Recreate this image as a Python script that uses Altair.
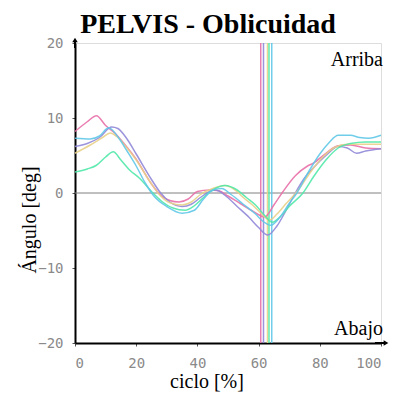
import altair as alt
import pandas as pd

# ---- data ----
series_names = ["A", "B", "C", "D", "E"]
series_colors = ["#e870a8", "#9088d8", "#e8d088", "#50e8a8", "#60c8e8"]

pink_x = [0, 4, 7, 10, 13, 16, 20, 25, 28, 31, 34, 37, 40, 44, 47, 50, 54, 58, 62, 65, 68, 72, 76, 78, 82, 86, 90, 95, 100]
pink_y = [8.2, 9.5, 10.3, 9.0, 8.0, 6.6, 4.5, 1.2, -0.3, -1.0, -1.2, -0.8, 0.2, 0.4, 0.3, -0.4, -1.4, -2.4, -3.2, -1.6, 0.2, 2.3, 3.6, 4.0, 5.3, 6.3, 6.4, 6.0, 5.9]

purple_x = [0, 4, 8, 12, 14, 17, 20, 25, 28, 31, 35, 38, 41, 44, 46, 49, 53, 57, 60, 63, 66, 69, 72, 75, 78, 82, 86, 89, 92, 95, 100]
purple_y = [6.2, 6.6, 7.4, 8.8, 8.6, 7.2, 5.2, 1.8, 0.0, -1.2, -1.8, -1.5, -0.6, 0.2, 0.4, -0.3, -1.8, -3.3, -4.6, -5.6, -4.4, -2.3, 0.0, 2.0, 3.4, 5.0, 6.2, 6.0, 5.3, 5.6, 5.9]

yellow_x = [0, 5, 9, 11.5, 14, 17, 20, 25, 28, 31, 35, 38, 41, 45, 49, 52, 55, 58, 61, 63.5, 66, 69, 73, 77, 81, 85, 89, 94, 100]
yellow_y = [5.3, 6.4, 7.4, 8.0, 7.4, 6.0, 4.4, 1.2, -0.4, -1.3, -1.6, -1.2, -0.2, 0.6, 1.0, 0.5, -0.6, -1.6, -2.8, -3.6, -2.8, -1.4, 0.4, 2.8, 4.8, 6.1, 6.5, 6.5, 6.5]

green_x = [0, 4, 7, 10, 12.5, 15, 18, 21, 25, 28, 32, 36, 39, 42, 45, 49, 53, 56, 59, 62, 64.5, 67, 70, 74.5, 78, 82, 86, 90, 95, 100]
green_y = [2.8, 3.2, 3.7, 4.8, 5.5, 4.4, 3.0, 2.0, 0.2, -1.0, -2.0, -2.3, -1.7, -0.6, 0.4, 1.0, 0.4, -0.6, -1.6, -3.0, -3.9, -3.2, -1.8, 0.0, 2.2, 4.4, 6.0, 6.6, 6.8, 6.8]

cyan_x = [0, 5, 8, 11, 14, 17, 20, 23, 26, 30, 35, 39, 42, 45, 48, 51, 55, 59, 61.5, 64, 67, 70, 72.5, 76, 80, 83, 86, 90, 93, 96, 100]
cyan_y = [7.3, 7.2, 7.6, 8.7, 7.5, 5.6, 3.6, 1.3, -0.5, -1.8, -2.7, -2.3, -0.8, 0.4, 0.6, -0.2, -1.5, -2.8, -3.8, -4.3, -3.2, -1.4, 0.0, 2.6, 5.2, 6.7, 7.7, 7.7, 7.4, 7.3, 7.7]

event_x = [60.7, 61.6, 62.9, 63.4, 64.3]

x_ticks = [0, 20, 40, 60, 80, 100]
y_ticks = [-20, -10, 0, 10, 20]

# ---- build tables ----
rows = []
for name, xs, ys in zip(series_names,
                        [pink_x, purple_x, yellow_x, green_x, cyan_x],
                        [pink_y, purple_y, yellow_y, green_y, cyan_y]):
    for xv, yv in zip(xs, ys):
        rows.append({"s": name, "x": xv, "y": yv})
df = pd.DataFrame(rows)
ev = pd.DataFrame({"s": series_names, "x": event_x})
zero = pd.DataFrame({"y": [0]})

W, H = 306, 300

xs = alt.Scale(domain=[0, 100], nice=False, zero=False)
ys = alt.Scale(domain=[-20, 20], nice=False, zero=False)
cs = alt.Scale(domain=series_names, range=series_colors)

x_axis = alt.Axis(values=x_ticks, title=None, grid=False, domainColor="black",
                  domainWidth=2, tickColor="#555", tickSize=3, labelPadding=10,
                  labelFont="DejaVu Sans Mono", labelFontSize=14, labelColor="#8a8a8a")
y_axis = alt.Axis(values=y_ticks, title=None, grid=False, domainColor="black",
                  domainWidth=2, tickColor="#555", tickSize=3, labelPadding=9,
                  labelFont="DejaVu Sans Mono", labelFontSize=14, labelColor="#8a8a8a")

zero_rule = alt.Chart(zero).mark_rule(color="#808080", strokeWidth=1).encode(
    y=alt.Y("y:Q", scale=ys, axis=y_axis)
)

lines = alt.Chart(df).mark_line(strokeWidth=1.5, opacity=0.9, interpolate="monotone").encode(
    x=alt.X("x:Q", scale=xs, axis=x_axis),
    y=alt.Y("y:Q", scale=ys, axis=y_axis),
    color=alt.Color("s:N", scale=cs, legend=None),
    detail="s:N",
)

rules = alt.Chart(ev).mark_rule(strokeWidth=1.5, opacity=0.9).encode(
    x=alt.X("x:Q", scale=xs),
    color=alt.Color("s:N", scale=cs, legend=None),
)

def label(txt, x, y, size, align="center", weight="normal", angle=0, baseline="alphabetic"):
    return alt.Chart(pd.DataFrame({"t": [txt]})).mark_text(
        font="Liberation Serif", fontSize=size, fontWeight=weight, align=align,
        baseline=baseline, angle=angle, color="black"
    ).encode(text="t:N", x=alt.value(x), y=alt.value(y))

title = label("PELVIS - Oblicuidad", 133, -10, 28, weight="bold")
arriba = label("Arriba", 308, 23, 20, align="right")
abajo = label("Abajo", 308, 292, 20, align="right")
xtitle = label("ciclo [%]", 132, 345, 20)
ytitle = label("Ángulo [deg]", -45, 177, 20, angle=270, baseline="middle")

arrow_up = alt.Chart(pd.DataFrame({"a": [0]})).mark_point(
    shape="triangle-up", filled=True, color="black", size=30, opacity=1
).encode(x=alt.value(0), y=alt.value(-3))
arrow_right = alt.Chart(pd.DataFrame({"a": [0]})).mark_point(
    shape="triangle-right", filled=True, color="black", size=30, opacity=1
).encode(x=alt.value(311), y=alt.value(300))
ext_x = alt.Chart(pd.DataFrame({"a": [0]})).mark_rule(color="black", strokeWidth=2).encode(
    x=alt.value(300), x2=alt.value(309), y=alt.value(300))
ext_y = alt.Chart(pd.DataFrame({"a": [0]})).mark_rule(color="black", strokeWidth=2).encode(
    x=alt.value(0), y=alt.value(-1), y2=alt.value(5))

chart = alt.layer(
    zero_rule, rules, lines, ext_x, ext_y, arrow_up, arrow_right,
    title, arriba, abajo, xtitle, ytitle
).properties(
    width=W, height=H,
    autosize=alt.AutoSizeParams(type="none"),
    padding={"left": 67, "top": 35, "right": 8, "bottom": 56},
).configure_view(stroke=None).configure(background="white")

chart.save("out.html", embed_options={"renderer": "svg", "actions": False})
